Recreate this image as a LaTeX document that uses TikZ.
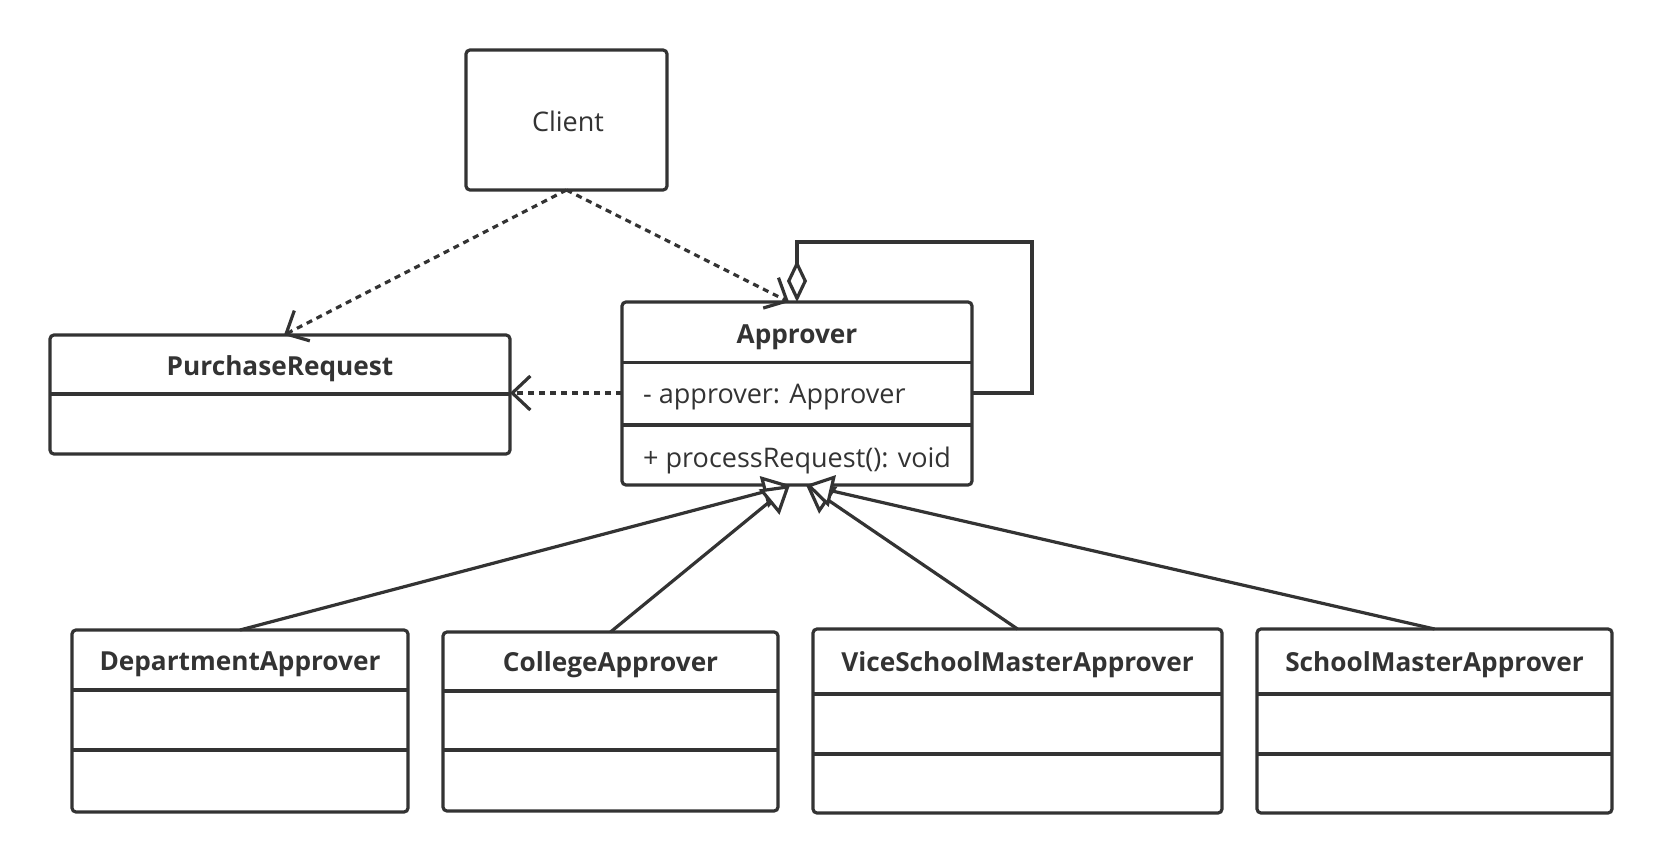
\documentclass[tikz,border=0pt]{standalone}
\usepackage{fontspec}
\setmainfont{Open Sans}
\usetikzlibrary{arrows.meta}
\definecolor{ink}{HTML}{333333}
\begin{document}
\begin{tikzpicture}[x=1pt,y=-1pt,
  ln/.style={draw=ink, line width=3.2pt},
  cls/.style={ln, rounded corners=4pt, fill=white, inner sep=0pt, outer sep=0pt},
  ttl/.style={font=\fontsize{26.2}{30}\selectfont\bfseries, text=ink, inner sep=0pt},
  txt/.style={font=\fontsize{27}{31}\selectfont, text=ink, inner sep=0pt},
  dep/.style={ln, dash pattern=on 6pt off 5pt, -{Straight Barb[length=18pt,width=34pt,line width=3.2pt]}},
  inh/.style={ln, -{Triangle[length=27pt,width=32pt,fill=white,line width=3.2pt]}},
  agg/.style={ln, -{Diamond[length=42pt,width=20pt,fill=white,line width=3.2pt]}}
]
\useasboundingbox (0,0) rectangle (1662,864);

% Client
\node[cls, minimum width=201pt, minimum height=140pt] (client) at (566.5,120) {};
\node[txt] (clientT) at (568,121) {Client};

% PurchaseRequest
\node[cls, minimum width=460pt, minimum height=119pt] (pr) at (280,394.5) {};
\draw[ln] (pr.west |- 0,394) -- (pr.east |- 0,394);
\node[ttl] (prT) at (280,369) {PurchaseRequest};

% Approver
\node[cls, minimum width=350pt, minimum height=183pt] (appr) at (797,393.5) {};
\draw[ln] (appr.west |- 0,362.5) -- (appr.east |- 0,362.5);
\draw[ln] (appr.west |- 0,425) -- (appr.east |- 0,425);
\node[ttl] (apprT) at (797,337) {Approver};
\node[txt, anchor=west] (apprA) at (643,397) {- approver: Approver};
\node[txt, anchor=west] (apprM) at (643,460) {+ processRequest(): void};

% Subclasses
\node[cls, minimum width=336pt, minimum height=182pt] (dept) at (240,721) {};
\draw[ln] (dept.west |- 0,690) -- (dept.east |- 0,690);
\draw[ln] (dept.west |- 0,750) -- (dept.east |- 0,750);
\node[ttl] (deptT) at (240,664) {DepartmentApprover};

\node[cls, minimum width=335pt, minimum height=179pt] (coll) at (610.5,721.5) {};
\draw[ln] (coll.west |- 0,691) -- (coll.east |- 0,691);
\draw[ln] (coll.west |- 0,750) -- (coll.east |- 0,750);
\node[ttl] (collT) at (610.5,665) {CollegeApprover};

\node[cls, minimum width=409pt, minimum height=184pt] (vice) at (1017.5,721) {};
\draw[ln] (vice.west |- 0,694) -- (vice.east |- 0,694);
\draw[ln] (vice.west |- 0,754) -- (vice.east |- 0,754);
\node[ttl] (viceT) at (1017.5,665) {ViceSchoolMasterApprover};

\node[cls, minimum width=355pt, minimum height=184pt] (school) at (1434.5,721) {};
\draw[ln] (school.west |- 0,694) -- (school.east |- 0,694);
\draw[ln] (school.west |- 0,754) -- (school.east |- 0,754);
\node[ttl] (schoolT) at (1434.5,665) {SchoolMasterApprover};

% Dependencies
\draw[dep] (client.south) -- ([xshift=4pt]pr.north);
\draw[dep] (client.south) -- ([xshift=-8pt]appr.north);
\draw[dep] (appr.west |- 0,393) -- (pr.east |- 0,393);

% Self aggregation
\coordinate (loopA) at (1032,393);
\coordinate (loopB) at (1032,242);
\coordinate (loopC) at (797,242);
\draw[agg, line join=miter] (appr.east |- 0,393) -- (loopA) -- (loopB) -- (loopC) -- (appr.north);

% Generalisations
\draw[inh] (dept.north) -- ([xshift=-7pt]appr.south);
\draw[inh] (coll.north) -- ([xshift=-7pt]appr.south);
\draw[inh] (vice.north) -- ([xshift=9pt]appr.south);
\draw[inh] (school.north) -- ([xshift=9pt]appr.south);
\end{tikzpicture}
\end{document}
